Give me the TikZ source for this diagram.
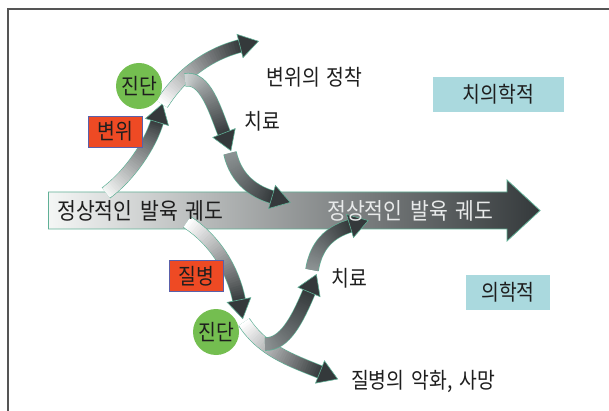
\documentclass[tikz,border=0pt]{standalone}
\usepackage{fontspec}
\newfontfamily\krc[FakeStretch=0.88, WordSpace=1.6]{Noto Sans CJK KR}
\newfontfamily\krm[FakeStretch=0.89, WordSpace=1.7]{Noto Sans CJK KR}
\usetikzlibrary{calc}
\definecolor{edgec}{RGB}{96,176,150}
\definecolor{darkar}{RGB}{52,57,59}
\definecolor{lightar}{RGB}{244,246,245}
\definecolor{midar}{RGB}{150,156,158}
\definecolor{redbox}{RGB}{238,74,36}
\definecolor{redline}{RGB}{90,96,170}
\definecolor{tealbox}{RGB}{170,217,222}
\definecolor{greenc}{RGB}{116,190,80}
\definecolor{framec}{RGB}{85,85,85}
\definecolor{txtc}{RGB}{30,30,30}
\definecolor{lighttxt}{RGB}{232,234,234}
\definecolor{grayA}{RGB}{205,210,210}
\definecolor{grayB}{RGB}{140,146,147}
\tikzset{
  lbl/.style={font=\krc\fontsize{22}{25}\selectfont, text=txtc, inner sep=0pt},
  maintxt/.style={font=\krm\fontsize{23}{26}\selectfont, inner sep=0pt, anchor=west},
  diag/.style={circle, fill=greenc, minimum size=46pt, inner sep=0pt, lbl},
  redlbl/.style={fill=redbox, draw=redline, line width=0.8pt, minimum width=54pt, minimum height=31pt, lbl},
  tealbl/.style={fill=tealbox, minimum height=35pt, lbl},
  framestyle/.style={framec, line width=1.5pt}
}
% #1 p0, #2 c1, #3 c2, #4 p3 (base of head), #5 start colour, #6 end colour
\newcommand\garrow[6]{%
  \draw[line width=13.6pt, edgec] #1 .. controls #2 and #3 .. #4;
  \foreach \k in {0,...,40}{\path #1 .. controls #2 and #3 .. #4 coordinate[pos=\k/40] (gq\k);}
  \foreach \k [evaluate=\k as \nk using {int(min(\k+2,40))}, evaluate=\k as \pc using {int(\k*2.5)}] in {0,...,39}{%
    \draw[line width=12pt, color=#6!\pc!#5] (gq\k) -- (gq\nk);}
  \coordinate (gb) at #4;
  \coordinate (gt) at ($(gb)!-19pt!#3$);
  \fill[#6, draw=edgec, line width=0.6pt] (gt) -- ($(gb)!12pt!90:(gt)$) -- ($(gb)!12pt!-90:(gt)$) -- cycle;
}
\begin{document}
\begin{tikzpicture}[x=1pt,y=-1pt]
\useasboundingbox (0,0) rectangle (609,411);
\fill[white] (0,0) rectangle (609,411);
% frame
\coordinate (fa) at (8,411);
\coordinate (fb) at (8,9);
\coordinate (fc) at (609,9);
\draw[framestyle] (fa) -- (fb) -- (fc);
% main arrow
\shadedraw[left color=lightar, middle color=midar, right color=darkar, draw=edgec, line width=0.8pt]
  (48.5,192) -- (507,192) -- (507,180) -- (540,210.5) -- (507,241) -- (507,229) -- (48.5,229) -- cycle;
% curved arrows
\garrow{(106,193)}{(130,175)}{(150,145)}{(157,122)}{lightar}{darkar}
\garrow{(162,104)}{(178,78)}{(205,55)}{(240,46)}{white}{darkar}
\garrow{(185,80)}{(205,76)}{(215,110)}{(224,133)}{grayA}{darkar}
\garrow{(230,153)}{(236,180)}{(255,192)}{(272,197)}{grayB}{darkar}
\garrow{(187,222)}{(215,240)}{(233,270)}{(239,300)}{white}{darkar}
\garrow{(244,322)}{(262,350)}{(290,360)}{(320,372)}{white}{darkar}
\garrow{(265,344)}{(285,345)}{(298,318)}{(309,292)}{grayB}{darkar}
\garrow{(312,270)}{(316,245)}{(330,232)}{(350,226)}{grayB}{darkar}
% main texts
\node[maintxt, text=txtc] (t1) at (57,211) {정상적인 발육 궤도};
\node[maintxt, text=lighttxt] (t2) at (327,211) {정상적인 발육 궤도};
% circles
\node[diag] (d1) at (139,86) {진단};
\node[diag] (d2) at (216,332) {진단};
% red boxes
\node[redlbl] (r1) at (115.5,131.5) {변위};
\node[redlbl] (r2) at (196,276) {질병};
% teal boxes
\node[tealbl, minimum width=131pt] (s1) at (498.5,94.5) {치의학적};
\node[tealbl, minimum width=84pt] (s2) at (508,292) {의학적};
% labels
\node[lbl] (l1) at (314.5,77) {변위의 정착};
\node[lbl] (l2) at (262.5,121) {치료};
\node[lbl] (l3) at (349.5,278) {치료};
\node[lbl] (l4) at (423,381) {질병의 악화, 사망};
\end{tikzpicture}
\end{document}
